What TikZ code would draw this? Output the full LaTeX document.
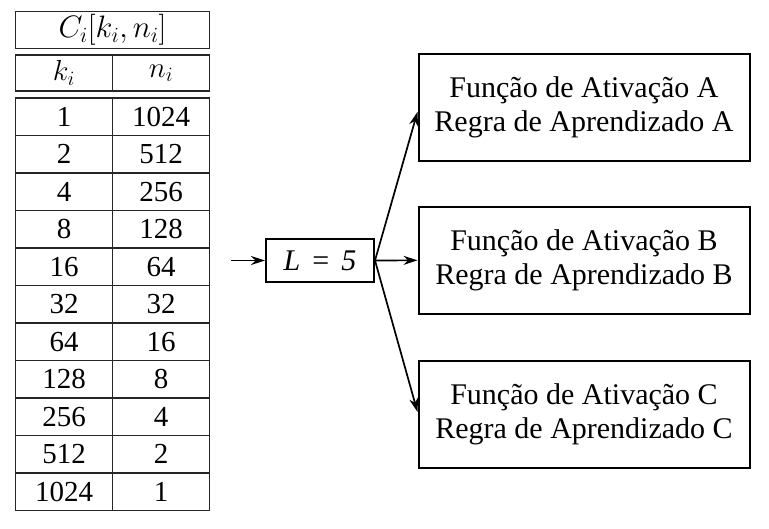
\RequirePackage{fix-cm}
\documentclass[tikz,border=0pt]{standalone}
\usepackage{fontspec}
\setmainfont{Liberation Serif}
\usetikzlibrary{arrows.meta}
\tikzset{
  cell/.style={draw, line width=1.2pt, draw=black!85, minimum width=97pt, minimum height=37.5pt, inner sep=0pt, font=\fontsize{29}{33}\selectfont},
  fbox/.style={draw, line width=2pt, minimum width=331pt, minimum height=107pt, inner sep=0pt, align=center, font=\fontsize{30}{36}\selectfont},
  lbox/.style={draw, line width=2pt, minimum width=108pt, minimum height=43pt, inner sep=0pt, font=\fontsize{30}{34}\selectfont},
  arr/.style={line width=1.7pt, -{Stealth[length=14pt,width=9pt]}}
}
\begin{document}
\begin{tikzpicture}[x=1pt,y=-1pt]
\useasboundingbox (0,0) rectangle (769,528);
\node[cell, minimum width=194pt, minimum height=36.5pt, font=\fontsize{31}{35}\selectfont] (hd) at (112.5,30) {$C_i[k_i,n_i]$};
\node[cell, minimum height=36pt] (hk) at (64,73) {$k_i$};
\node[cell, minimum height=36pt] (hn) at (161,73) {$n_i$};
\foreach \k/\n [count=\i from 0] in {1/1024,2/512,4/256,8/128,16/64,32/32,64/16,128/8,256/4,512/2,1024/1}{
  \node[cell] (k\i) at (64,{98+37.5*(\i+0.5)}) {\k};
  \node[cell] (n\i) at (161,{98+37.5*(\i+0.5)}) {\n};
}
\node[lbox] (L) at (320,260.5) {\textit{L}\hspace{0.4em}=\hspace{0.4em}\textit{5}};
\coordinate (in) at (231,260.5);
\node[fbox] (A) at (584,107.3) {\raisebox{-3pt}{\begin{tabular}{@{}c@{}}Função de Ativação A\\[-2pt]Regra de Aprendizado A\end{tabular}}};
\node[fbox] (B) at (584,260.3) {\raisebox{-3pt}{\begin{tabular}{@{}c@{}}Função de Ativação B\\[-2pt]Regra de Aprendizado B\end{tabular}}};
\node[fbox] (C) at (584,414) {\raisebox{-3pt}{\begin{tabular}{@{}c@{}}Função de Ativação C\\[-2pt]Regra de Aprendizado C\end{tabular}}};
\draw[arr] (in) -- (L.west);
\draw[arr] (L.east) -- ([yshift=-4.5pt]A.west);
\draw[arr] (L.east) -- (B.west);
\draw[arr] (L.east) -- ([yshift=2pt]C.west);
\end{tikzpicture}
\end{document}
